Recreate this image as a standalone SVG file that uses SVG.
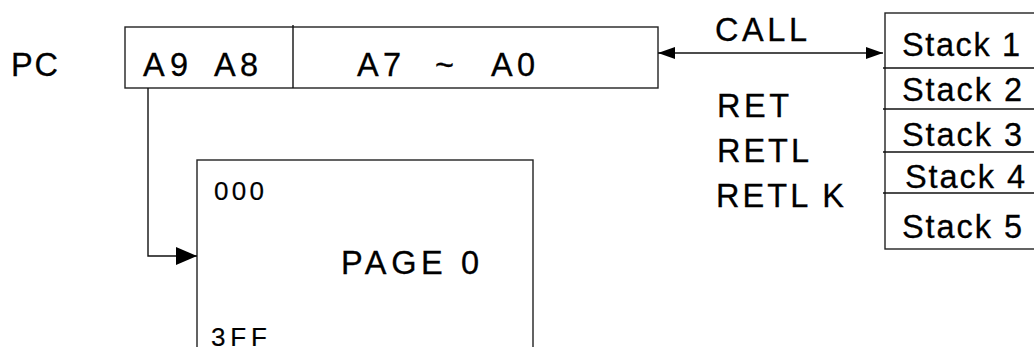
<svg xmlns="http://www.w3.org/2000/svg" width="1034" height="347" viewBox="0 0 1034 347">
<style>
.t{font-family:"Liberation Sans",Arial,sans-serif;font-size:32.5px;fill:#000;stroke:#000;stroke-width:0.3;}
.s{font-size:26px;stroke-width:0.2;}
.box{fill:#fff;stroke:#222;stroke-width:1.4;}
.ln{fill:none;stroke:#111;stroke-width:1.4;}
</style>
<defs>
<marker id="ah" markerUnits="userSpaceOnUse" markerWidth="18" markerHeight="12" refX="17" refY="6" orient="auto-start-reverse">
<path d="M0,0 L17,6 L0,12 z" fill="#000"/>
</marker>
<marker id="ahb" markerUnits="userSpaceOnUse" markerWidth="22" markerHeight="18" refX="21" refY="9" orient="auto">
<path d="M0,0 L21,9 L0,18 z" fill="#000"/>
</marker>
</defs>
<text class="t" x="11" y="76" textLength="47" lengthAdjust="spacing">PC</text>
<g id="pc-register">
<rect class="box" x="125" y="27" width="533" height="61"/>
<line class="ln" x1="293" y1="25" x2="293" y2="88"/>
<text class="t" y="76"><tspan x="143" textLength="45" lengthAdjust="spacing">A9</tspan><tspan x="214" textLength="44" lengthAdjust="spacing">A8</tspan></text>
<text class="t" y="76"><tspan x="357" textLength="44" lengthAdjust="spacing">A7</tspan><tspan x="435">~</tspan><tspan x="491" textLength="44" lengthAdjust="spacing">A0</tspan></text>
</g>
<g id="page0">
<rect class="box" x="197" y="160" width="336" height="200"/>
<text class="t s" x="214" y="200" textLength="50" lengthAdjust="spacing">000</text>
<text class="t" x="341" y="274" textLength="138" lengthAdjust="spacing">PAGE 0</text>
<text class="t s" x="211" y="346" textLength="56" lengthAdjust="spacing">3FF</text>
</g>
<g id="stack">
<rect class="box" x="885" y="13" width="160" height="236"/>
<line class="ln" x1="883" y1="68" x2="1034" y2="68"/>
<line class="ln" x1="883" y1="109" x2="1034" y2="109"/>
<line class="ln" x1="883" y1="152" x2="1034" y2="152"/>
<line class="ln" x1="883" y1="193" x2="1034" y2="193"/>
<text class="t" x="902" y="56" textLength="118" lengthAdjust="spacing">Stack 1</text>
<text class="t" x="902" y="101" textLength="120" lengthAdjust="spacing">Stack 2</text>
<text class="t" x="902" y="146" textLength="120" lengthAdjust="spacing">Stack 3</text>
<text class="t" x="905" y="188" textLength="120" lengthAdjust="spacing">Stack 4</text>
<text class="t" x="902" y="238" textLength="120" lengthAdjust="spacing">Stack 5</text>
</g>
<g id="labels">
<text class="t" x="715" y="41" textLength="92" lengthAdjust="spacing">CALL</text>
<text class="t" x="717" y="117" textLength="72" lengthAdjust="spacing">RET</text>
<text class="t" x="717" y="162" textLength="92" lengthAdjust="spacing">RETL</text>
<text class="t" x="716" y="207" textLength="128" lengthAdjust="spacing">RETL K</text>
</g>
<g id="connectors">
<line class="ln" x1="658" y1="53" x2="883" y2="53" marker-start="url(#ah)" marker-end="url(#ah)"/>
<path class="ln" d="M148,88 V256 H197" marker-end="url(#ahb)"/>
</g>
</svg>
